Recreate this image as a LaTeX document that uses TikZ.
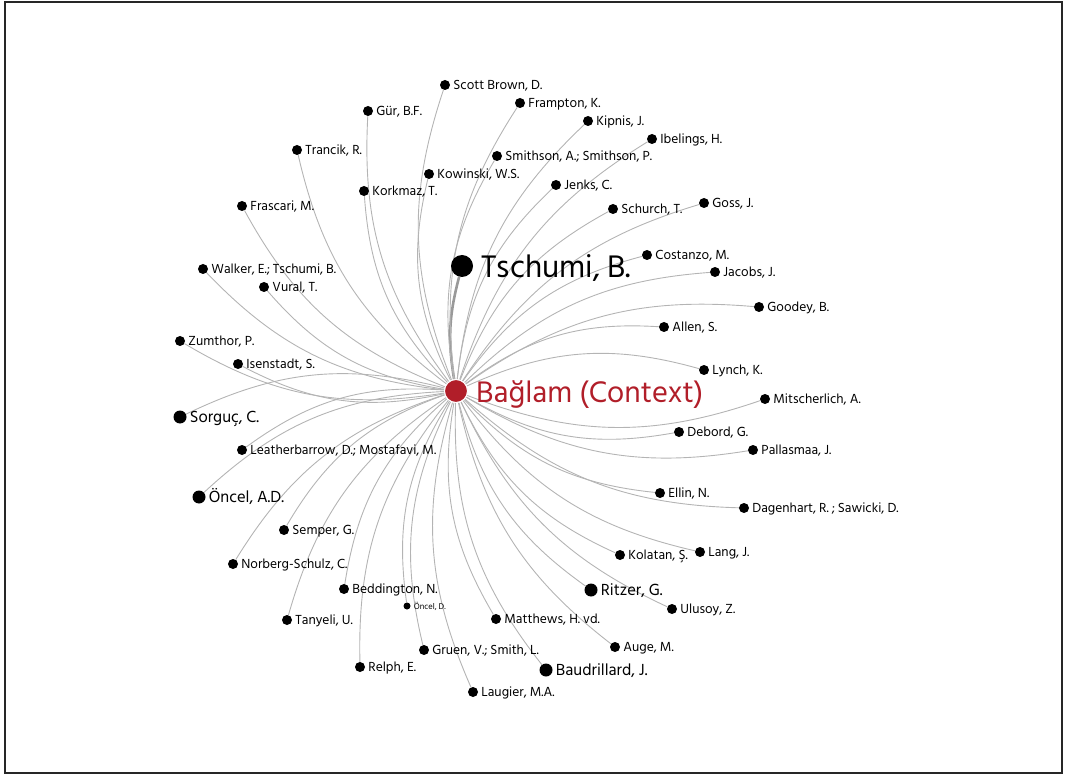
\documentclass[tikz,border=0pt]{standalone}
\usepackage{fontspec}
\setmainfont{Hind Siliguri}
\usetikzlibrary{backgrounds}
\definecolor{ctxred}{HTML}{B11E29}
\definecolor{edgegray}{HTML}{B4B4B4}
\begin{document}
\begin{tikzpicture}[x=1pt,y=-1pt,
  leafdot/.style={circle, fill=black, inner sep=0pt, draw=none},
  lbl/.style={anchor=base west, inner sep=0pt, text=black},
  edge/.style={draw=edgegray, line width=0.9pt},
  bl/.style={bend left=20},
  br/.style={bend right=20}]
\useasboundingbox (0,0) rectangle (1065,775);
% centre
\node[circle, fill=ctxred, draw=white, line width=1pt, inner sep=0pt, minimum size=23pt] (c) at (456,391) {};
\node[anchor=base west, inner sep=0pt, text=ctxred, font=\fontsize{30.5}{32}\selectfont] (cl) at ([xshift=8pt, yshift=-11pt]c.east) {Bağlam (Context)};
% Tschumi
\node[leafdot, minimum size=22pt] (ts) at (462,266) {};
\node[lbl, font=\fontsize{32}{34}\selectfont] (ts-l) at ([xshift=8pt, yshift=-11.5pt]ts.east) {Tschumi, B.};
\begin{scope}[on background layer]
\draw[edge, line width=2.6pt, draw=black!40] (c) to[bend left=12] (ts);
\end{scope}
\foreach \n/\px/\py/\d/\fs/\t/\b in {
 sb/445/85/10/13.5/{Scott Brown, D.}/bl,
 fr/520/103/10/13.5/{Frampton, K.}/bl,
 ki/588/121/10/13.5/{Kipnis, J.}/bl,
 ib/652/139/10/13.5/{Ibelings, H.}/bl,
 gu/368/111/10/13.5/{Gür, B.F.}/bl,
 tr/297/150/10/13.5/{Trancik, R.}/bl,
 sm/497/156/10/13.5/{Smithson, A.; Smithson, P.}/bl,
 kw/429/174/10/13.5/{Kowinski, W.S.}/bl,
 je/556/185/10/13.5/{Jenks, C.}/bl,
 ko/364/191/10/13.5/{Korkmaz, T.}/bl,
 fa/242/206/10/13.5/{Frascari, M.}/bl,
 sc/613/209/10/13.5/{Schurch, T.}/bl,
 go/704/203/10/13.5/{Goss, J.}/bl,
 co/647/255/10/13.5/{Costanzo, M.}/bl,
 ja/715/272/10/13.5/{Jacobs, J.}/bl,
 wa/203/269/10/13.5/{Walker, E.; Tschumi, B.}/bl,
 vu/264/287/10/13.5/{Vural, T.}/bl,
 gd/759/307/10/13.5/{Goodey, B.}/bl,
 al/664/327/10/13.5/{Allen, S.}/bl,
 zu/180/341/10/13.5/{Zumthor, P.}/bl,
 is/238/364/10/13.5/{Isenstadt, S.}/bl,
 ly/704/370/10/13.5/{Lynch, K.}/bl,
 mi/765/399/10/13.5/{Mitscherlich, A.}/br,
 so/180/417/13/16.5/{Sorguç, C.}/br,
 de/679/432/10/13.5/{Debord, G.}/br,
 le/242/450/10/13.5/{Leatherbarrow, D.; Mostafavi, M.}/br,
 pa/753/450/10/13.5/{Pallasmaa, J.}/br,
 oa/199/497/13/16.5/{Öncel, A.D.}/br,
 el/660/493/10/13.5/{Ellin, N.}/br,
 da/744/508/10/13.5/{Dagenhart, R. ; Sawicki, D.}/br,
 se/284/530/10/13.5/{Semper, G.}/br,
 kl/620/555/10/13.5/{Kolatan, Ş.}/br,
 la/700/552/10/13.5/{Lang, J.}/br,
 ns/233/564/10/13.5/{Norberg-Schulz, C.}/br,
 ri/591/590/13/16.5/{Ritzer, G.}/br,
 be/344/589/10/13.5/{Beddington, N.}/br,
 od/407/606/7/8.5/{Öncel, D.}/br,
 ul/672/609/10/13.5/{Ulusoy, Z.}/br,
 ta/287/620/10/13.5/{Tanyeli, U.}/br,
 ma/496/619/10/13.5/{Matthews, H. vd.}/br,
 au/615/647/10/13.5/{Auge, M.}/br,
 gr/424/650/10/13.5/{Gruen, V.; Smith, L.}/br,
 re/360/667/10/13.5/{Relph, E.}/br,
 ba/546/670/13/16.5/{Baudrillard, J.}/br,
 lg/473/692/10/13.5/{Laugier, M.A.}/br}{
  \pgfmathsetmacro{\ys}{-0.36*\fs}
  \node[leafdot, minimum size=\d pt] (\n) at (\px,\py) {};
  \node[lbl, font=\fontsize{\fs}{\fs}\selectfont] (\n-l) at ([xshift=3pt, yshift=\ys pt]\n.east) {\t};
  \begin{scope}[on background layer]
    \draw[edge] (c) to[\b] (\n);
  \end{scope}
}
\draw[line width=2pt, color=black!85] (5,2.5) rectangle (1061.5,772.5);
\end{tikzpicture}
\end{document}
